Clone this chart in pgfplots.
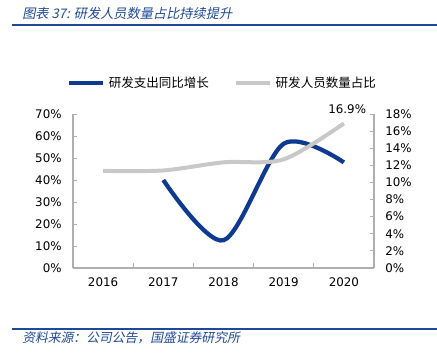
\documentclass[border=0pt]{standalone}
\usepackage{fontspec}
\usepackage{pgfplots}
\pgfplotsset{compat=1.18}
\setmainfont{DejaVu Sans}
\newfontfamily\cjk{Noto Sans CJK SC}
\newfontfamily\cjkit[FakeSlant=0.2]{Noto Sans CJK SC}
\definecolor{tblue}{RGB}{31,73,150}
\definecolor{sblue}{RGB}{14,58,145}
\definecolor{sgray}{RGB}{200,200,200}
\definecolor{axgray}{RGB}{175,175,175}
\begin{document}
\begin{tikzpicture}
\useasboundingbox (0pt,0pt) rectangle (327.75pt,264.75pt);
% title
\node[anchor=west,inner sep=0pt,text=tblue,font=\cjkit\fontsize{9.9pt}{11pt}\selectfont] at (16.5pt,255pt) {图表 37: 研发人员数量占比持续提升};
\draw[tblue,line width=1.4pt] (9pt,246pt) -- (327.75pt,246pt);
% footer
\draw[tblue,line width=1.2pt] (9pt,18pt) -- (327.75pt,18pt);
\node[anchor=west,inner sep=0pt,text=tblue,font=\cjkit\fontsize{9.6pt}{11pt}\selectfont] at (16.5pt,11.25pt) {资料来源：公司公告，国盛证券研究所};

\begin{axis}[
  at={(54.75pt,63.75pt)}, anchor=south west,
  scale only axis, width=225.75pt, height=115.5pt,
  xmin=-0.5, xmax=4.5, ymin=0, ymax=70,
  axis x line*=bottom, axis y line*=left,
  axis line style={draw=axgray,line width=0.8pt},
  tick align=inside,
  xtick={0,1,2,3,4}, xticklabels={2016,2017,2018,2019,2020},
  major x tick style={draw=none},
  minor xtick={-0.5,0.5,1.5,2.5,3.5,4.5},
  minor x tick style={draw=axgray,line width=0.6pt},
  minor tick length=4pt,
  ytick={0,10,...,70},
  yticklabel={\pgfmathprintnumber{\tick}\%},
  y tick style={draw=axgray,line width=0.6pt},
  major tick length=3pt,
  tick label style={font=\fontsize{8.9pt}{10pt}\selectfont},
  yticklabel style={xshift=-5pt},
  xticklabel style={yshift=-4pt},
  /pgf/number format/assume math mode=true,
  clip=false,
]
\addplot[sblue, line width=3.2pt, smooth, tension=0.5] coordinates {(1,40) (2,12.6) (3,56.5) (4,48)};
\end{axis}

\begin{axis}[
  at={(54.75pt,63.75pt)}, anchor=south west,
  scale only axis, width=225.75pt, height=115.5pt,
  xmin=-0.5, xmax=4.5, ymin=0, ymax=18,
  axis x line=none, axis y line*=right,
  axis line style={draw=axgray,line width=0.8pt},
  tick align=inside,
  ytick={0,2,...,18},
  yticklabel={\pgfmathprintnumber{\tick}\%},
  y tick style={draw=axgray,line width=0.6pt},
  major tick length=3pt,
  tick label style={font=\fontsize{8.9pt}{10pt}\selectfont},
  yticklabel style={xshift=5pt},
  /pgf/number format/assume math mode=true,
  clip=false,
  legend columns=2,
  legend style={at={(0.498,1.2)}, anchor=center, draw=none, fill=none,
    font=\cjk\fontsize{9.4pt}{10pt}\selectfont,
    /tikz/every odd column/.append style={column sep=1pt},
    /tikz/every even column/.append style={column sep=17pt}},
  legend image code/.code={\draw[#1] (0pt,0pt) -- (25pt,0pt);},
]
\addlegendimage{sblue, line width=3.2pt}
\addlegendentry{研发支出同比增长}
\addplot[sgray, line width=3pt, smooth, tension=0.5] coordinates {(0,11.35) (1,11.4) (2,12.35) (3,12.7) (4,16.9)};
\addlegendentry{研发人员数量占比}
\node[anchor=south, font=\fontsize{8.9pt}{10pt}\selectfont] at (axis cs:4,16.9) [yshift=4pt,xshift=2.5pt] {16.9\%};
\end{axis}
\end{tikzpicture}
\end{document}
